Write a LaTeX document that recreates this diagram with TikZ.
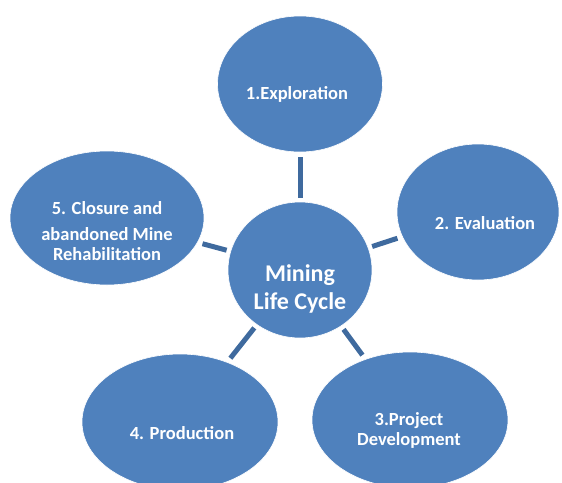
\documentclass[tikz,border=0pt]{standalone}
\usepackage{fontspec}
\setmainfont{Carlito}
\usetikzlibrary{shapes.geometric}
\definecolor{blobblue}{HTML}{4F81BD}
\definecolor{stubblue}{HTML}{3F6A9E}
\begin{document}
\begin{tikzpicture}[x=1pt,y=-1pt,
  blob/.style={ellipse,fill=blobblue,draw=white,line width=0.6pt,inner sep=0pt},
  lbl/.style={text=white,font=\bfseries\fontsize{18.5}{20}\selectfont,align=center,inner sep=0pt},
  stub/.style={draw=stubblue,line width=5pt,shorten <=4pt,shorten >=5pt}]
\useasboundingbox (0,0) rectangle (562,482);
\node[blob,minimum width=144pt,minimum height=136pt] (c) at (300,270) {};
\node[blob,minimum width=165pt,minimum height=136pt] (e1) at (300,84) {};
\node[blob,minimum width=162pt,minimum height=136pt] (e2) at (478,212) {};
\node[blob,minimum width=196pt,minimum height=136pt] (e3) at (410,420) {};
\node[blob,minimum width=196pt,minimum height=136pt] (e4) at (180,422) {};
\node[blob,minimum width=194pt,minimum height=134pt] (e5) at (107,218) {};
\draw[stub] (c) -- (e1);
\draw[stub] (c) -- (e2);
\draw[stub] (c) -- (e3);
\draw[stub] (c) -- (e4);
\draw[stub] (c) -- (e5);
\node[lbl,font=\bfseries\fontsize{24}{28}\selectfont] (tc) at (300,289) {Mining\\Life Cycle};
\node[lbl] (t1) at (297,94) {1.Exploration};
\node[lbl] (t2) at (485,223) {2. Evaluation};
\node[lbl] (t3) at (409,430) {3.Project\\Development};
\node[lbl] (t4) at (182,433) {4. Production};
\node[lbl] (t5) at (107,231) {5. Closure and\\[6pt]abandoned Mine\\Rehabilitation};
\end{tikzpicture}
\end{document}
